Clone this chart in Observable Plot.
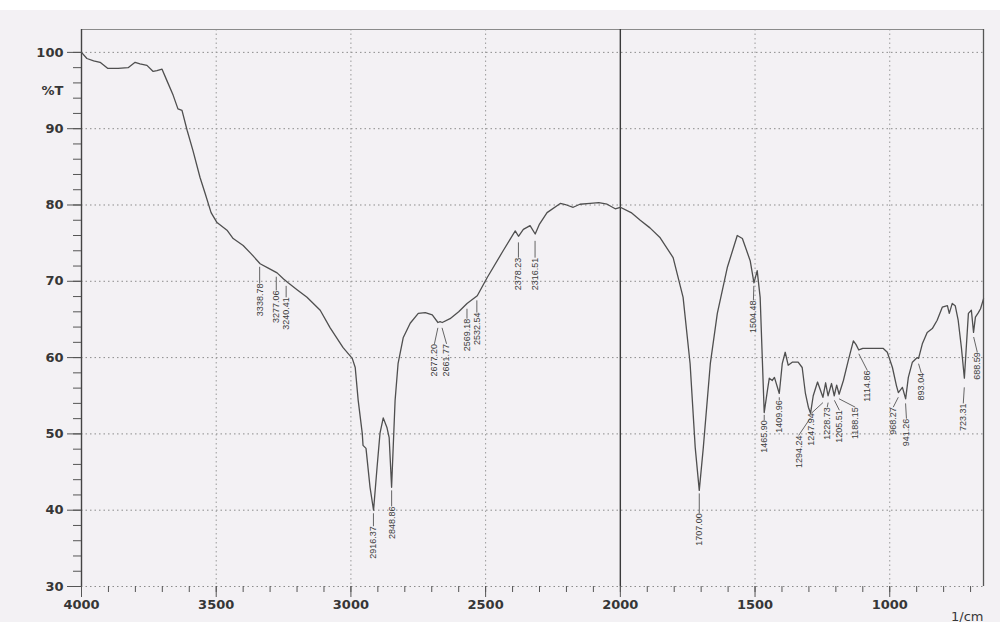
<!DOCTYPE html>
<html><head><meta charset="utf-8">
<script src="https://cdn.jsdelivr.net/npm/d3@7"></script>
<script src="https://cdn.jsdelivr.net/npm/@observablehq/plot@0.6"></script>
<style>
html,body{margin:0;padding:0;background:#f3f1f4;}
#chart svg{display:block;}
</style></head><body><div id="chart"></div>
<script>
// IR spectrum: wavenumber (1/cm) vs %T
const wavenumber = [4000,3980,3955,3931,3902,3864,3827,3801,3783,3757,3734,3720,3701,3683,3660,3642,3627,3608,3586,3560,3541,3519,3497,3460,3437,3400,3370,3337,3305,3274,3250,3233,3200,3163,3114,3077,3029,2995,2984,2973,2958,2955,2944,2929,2916,2903,2892,2880,2866,2858,2849,2836,2825,2806,2780,2750,2724,2698,2677,2669,2661,2632,2600,2569,2531,2494,2435,2390,2378,2360,2335,2316,2300,2272,2223,2200,2175,2150,2112,2080,2049,2019,2000,1960,1926,1890,1852,1804,1767,1741,1722,1707,1692,1666,1640,1603,1566,1547,1518,1504,1492,1481,1466,1454,1447,1436,1428,1410,1399,1388,1377,1362,1340,1325,1313,1302,1294,1284,1268,1248,1238,1229,1216,1206,1197,1188,1172,1154,1135,1125,1115,1100,1083,1024,1009,990,975,968,953,941,931,916,898,893,879,861,842,824,805,786,779,768,757,746,734,723,716,708,697,689,682,671,663,652];
const transmittance = [100.0,99.2,98.9,98.7,97.9,97.9,98.0,98.7,98.5,98.3,97.5,97.6,97.8,96.3,94.4,92.6,92.4,89.8,87.1,83.6,81.5,79.0,77.7,76.7,75.6,74.7,73.6,72.3,71.7,71.1,70.3,69.8,68.9,67.9,66.2,63.9,61.3,59.9,58.7,54.4,50.1,48.5,48.1,43.0,40.0,45.6,50.1,52.1,50.8,49.5,43.0,54.4,59.2,62.6,64.5,65.8,65.9,65.6,64.6,64.7,64.6,65.1,66.0,67.1,68.1,70.5,74.0,76.6,75.9,76.8,77.3,76.2,77.5,79.0,80.2,80.0,79.7,80.1,80.2,80.3,80.1,79.5,79.7,79.0,78.0,77.0,75.7,73.1,67.9,59.2,48.2,42.6,48.2,59.2,65.8,71.8,76.0,75.6,72.7,69.8,71.4,67.9,52.8,55.7,57.3,57.0,57.4,55.3,59.2,60.7,59.0,59.4,59.4,58.7,55.3,53.5,52.7,55.0,56.8,54.8,56.7,55.0,56.6,55.0,56.4,55.2,57.0,59.6,62.2,61.7,61.0,61.2,61.2,61.2,60.7,58.7,56.3,55.4,56.1,54.6,57.4,59.4,60.0,59.9,61.8,63.3,63.8,64.9,66.6,66.8,65.8,67.1,66.8,64.9,61.3,57.3,61.3,65.8,66.2,63.3,65.3,65.9,66.4,67.7];

// Peak annotations
const peakLabels = ["3338.78","3277.06","3240.41","2916.37","2848.86","2677.20","2661.77","2569.18","2532.54","2378.23","2316.51","1707.00","1504.48","1465.90","1409.96","1294.24","1247.94","1228.73","1205.51","1188.15","1114.86","968.27","941.26","893.04","723.31","688.59"];
const peakWn = [3338.78,3277.06,3240.41,2916.37,2848.86,2677.20,2661.77,2569.18,2532.54,2378.23,2316.51,1707.00,1504.48,1465.90,1409.96,1294.24,1247.94,1228.73,1205.51,1188.15,1114.86,968.27,941.26,893.04,723.31,688.59];
const peakTipT = [71.9,70.6,69.4,39.6,42.6,63.9,63.9,66.4,67.5,75.1,75.3,42.2,69.4,52.5,54.8,52.1,54.1,54.1,54.4,54.6,60.5,54.8,54.0,59.2,56.1,62.7];
const labelWn = [3338.78,3277.06,3240.41,2916.37,2848.86,2690,2645,2569.18,2532.54,2378.23,2316.51,1707.00,1506,1465.90,1409.96,1338,1291,1232,1187,1128,1083,987,938,883,727,675];
const labelTopT = [69.7,68.8,67.9,37.9,40.5,61.8,61.8,65.1,65.9,73.1,73.1,39.6,67.5,51.8,54.4,49.8,52.7,53.5,53.1,53.5,58.3,53.5,52.0,58.0,54.0,60.7];

// Axis ticks
const xMajorTicks = [4000,3500,3000,2500,2000,1500,1000];
const xMinorTicks = [4000,3900,3800,3700,3600,3500,3400,3300,3200,3100,3000,2900,2800,2700,2600,2500,2400,2300,2200,2100,2000,1900,1800,1700,1600,1500,1400,1300,1200,1100,1000,900,800,700];
const xGridTicks = [3500,3000,2500,1500,1000];
const yMajorTicks = [30,40,50,60,70,80,90,100];
const yMinorTicks = [30,32,34,36,38,40,42,44,46,48,50,52,54,56,58,60,62,64,66,68,70,72,74,76,78,80,82,84,86,88,90,92,94,96,98,100,102];
const xDomain = [4000, 652];
const yDomain = [30, 103];

const spectrum = wavenumber.map((w, i) => ({w, t: transmittance[i]}));
const peaks = peakLabels.map((label, i) => ({label, w: peakWn[i], tip: peakTipT[i], lw: labelWn[i], lt: labelTopT[i]}));

const axisFont = {fontFamily: "DejaVu Sans, sans-serif", fontWeight: "bold", fontSize: 13, fill: "#363636"};

const chart = Plot.plot({
  width: 1000,
  height: 622,
  marginLeft: 81,
  marginRight: 17,
  marginTop: 29,
  marginBottom: 36,
  style: {background: "linear-gradient(#ffffff 0 10px, #f3f1f4 10px)", fontFamily: "Liberation Sans, Arial, sans-serif", overflow: "visible"},
  x: {domain: xDomain, axis: null},
  y: {domain: yDomain, axis: null},
  marks: [
    Plot.ruleY(yMajorTicks, {stroke: "#8c8c8c", strokeDasharray: "1.5,3", strokeWidth: 1}),
    Plot.ruleX(xGridTicks, {stroke: "#9a9a9a", strokeDasharray: "1.5,3", strokeWidth: 1}),
    Plot.ruleY([yDomain[1]], {stroke: "#8a8a8a", strokeWidth: 1.2}),
    Plot.ruleX([xDomain[1]], {stroke: "#555", strokeWidth: 1.3}),
    Plot.ruleX([2000], {stroke: "#3a3a3a", strokeWidth: 1.4}),
    Plot.ruleX([xDomain[0]], {stroke: "#444", strokeWidth: 1.4}),
    Plot.axisY({ticks: yMinorTicks.filter(d => d <= 100), tickSize: 8, tickFormat: () => "", stroke: "#555", label: null}),
    Plot.axisY({ticks: yMajorTicks, tickSize: 14, tickPadding: 4, tickFormat: d => String(d), stroke: "#555", label: null, ...axisFont}),
    Plot.axisY({ticks: [95], tickSize: 0, tickPadding: 18, tickFormat: () => "%T", label: null, ...axisFont}),
    Plot.axisX({ticks: xMinorTicks, tickSize: 6, tickFormat: () => "", stroke: "#555", label: null}),
    Plot.axisX({ticks: xMajorTicks, tickSize: 11, tickPadding: 2, tickFormat: d => String(d), stroke: "#555", label: null, ...axisFont}),
    Plot.line(spectrum, {x: "w", y: "t", stroke: "#4f4f4f", strokeWidth: 1.3}),
    Plot.link(peaks, {x1: "w", y1: "tip", x2: "lw", y2: "lt", stroke: "#555", strokeWidth: 0.9}),
    Plot.text(peaks, {x: "lw", y: "lt", text: "label", rotate: -90, textAnchor: "end", lineAnchor: "middle", fontSize: 9, fill: "#3c3c3c", fontFamily: "Liberation Sans, Arial, sans-serif"}),
    Plot.text(["1/cm"], {frameAnchor: "bottom-right", dy: 30, textAnchor: "end", lineAnchor: "middle", fontSize: 13, fill: "#363636", fontFamily: "DejaVu Sans, sans-serif"})
  ]
});
document.getElementById("chart").appendChild(chart);
</script>
</body></html>
